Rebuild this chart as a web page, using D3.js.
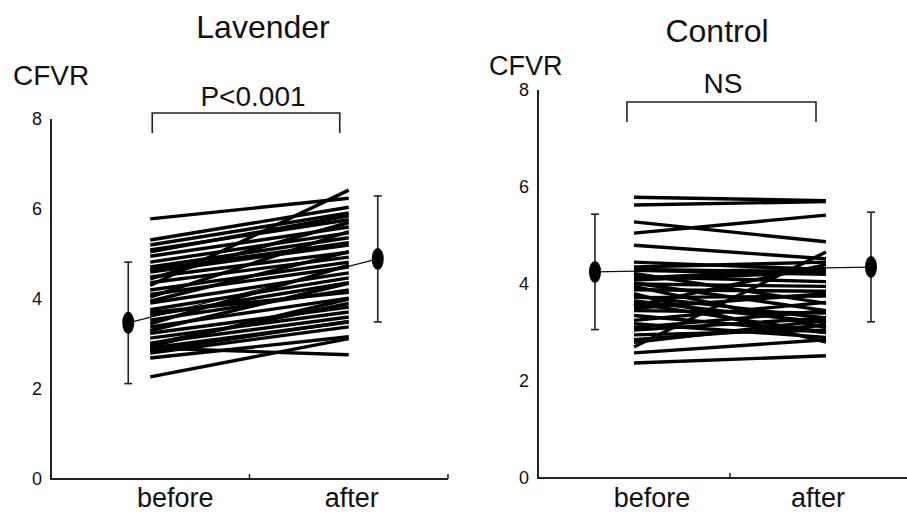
<!DOCTYPE html>
<html><head><meta charset="utf-8">
<script src="https://cdn.jsdelivr.net/npm/d3@7"></script>
<style>body{margin:0;background:#fff}svg{display:block}text{font-family:"Liberation Sans",Arial,sans-serif;fill:#111}</style>
</head><body><svg id="c" width="907" height="514"></svg>
<script>
const categories = ["before", "after"];
const yTicks = [0, 2, 4, 6, 8];
const panelTitles = ["Lavender", "Control"];
const pLabels = ["P<0.001", "NS"];
const yLabel = "CFVR";

// individual patients: before / after
const lavBefore = [5.78, 4.30, 5.31, 5.20, 5.09, 4.95, 4.82, 4.71, 4.60, 4.49, 4.36, 4.20, 4.10, 4.04, 3.91, 3.76, 3.64, 3.53, 3.38, 3.24, 3.13, 3.02, 2.91, 2.80, 2.69, 2.91, 2.27, 3.45, 2.95, 5.05, 4.65, 3.95, 3.30, 3.70, 3.00, 2.85, 4.45];
const lavAfter  = [6.24, 6.42, 6.04, 5.91, 5.76, 5.60, 5.47, 5.36, 5.20, 5.04, 4.93, 4.82, 4.71, 5.50, 4.58, 4.47, 4.36, 4.20, 4.02, 3.82, 3.71, 3.60, 3.49, 3.38, 3.16, 2.76, 3.12, 4.75, 4.00, 5.85, 5.25, 5.05, 4.35, 4.15, 3.90, 3.50, 5.70];
const ctlBefore = [5.79, 5.63, 5.28, 5.05, 4.80, 4.45, 4.35, 4.28, 4.22, 4.15, 4.08, 4.00, 3.95, 3.88, 3.80, 3.72, 3.65, 3.55, 3.45, 3.35, 3.25, 3.18, 3.05, 2.95, 2.85, 2.70, 2.58, 2.37, 4.30, 4.12, 3.75, 3.50, 3.10, 4.02, 3.60, 2.80];
const ctlAfter  = [5.72, 5.70, 4.87, 5.42, 4.52, 4.30, 4.45, 4.20, 3.60, 4.05, 4.25, 3.95, 3.10, 3.85, 2.80, 3.75, 3.20, 4.40, 3.40, 3.00, 3.62, 2.90, 3.30, 3.05, 3.15, 4.66, 2.85, 2.52, 4.25, 4.32, 3.30, 3.80, 3.45, 3.45, 3.00, 3.25];
// group mean and SD
const lavMean = [3.47, 4.89], lavSD = [1.35, 1.40];
const ctlMean = [4.25, 4.35], ctlSD = [1.19, 1.13];

const svg = d3.select("#c");

function panel(o) {
  const x = d3.scaleBand().domain(categories).range([o.x0, o.x1]);
  const y = d3.scaleLinear().domain([0, 8]).range([o.yb, o.yt]);
  const g = svg.append("g");
  const bw = x.bandwidth();
  const cx = c => x(c) + bw / 2;

  // axes
  g.append("line").attr("x1", o.x0).attr("x2", o.x0).attr("y1", y(0)).attr("y2", y(8))
    .attr("stroke", "#222").attr("stroke-width", 2);
  g.append("line").attr("x1", o.x0 - 1).attr("x2", Math.min(o.x1, 907)).attr("y1", y(0)).attr("y2", y(0))
    .attr("stroke", "#222").attr("stroke-width", 2);
  categories.forEach(c => {
    const tx = x(c) + bw;
    g.append("line").attr("x1", tx).attr("x2", tx).attr("y1", y(0)).attr("y2", y(0) - 5)
      .attr("stroke", "#222").attr("stroke-width", 1.5);
  });
  yTicks.forEach(t => {
    g.append("text").attr("x", o.x0 - 9).attr("y", y(t)).attr("dy", "0.36em")
      .attr("text-anchor", "end").attr("font-size", 18).text(t);
  });
  categories.forEach((c, i) => {
    g.append("text").attr("x", cx(c) + o.labOff[i]).attr("y", 507).attr("text-anchor", "middle")
      .attr("font-size", 27).text(c);
  });

  // mean connector
  const mx = [cx(categories[0]) + o.meanOff[0], cx(categories[1]) + o.meanOff[1]];
  g.append("line").attr("x1", mx[0]).attr("x2", mx[1]).attr("y1", y(o.mean[0])).attr("y2", y(o.mean[1]))
    .attr("stroke", "#111").attr("stroke-width", 1.3);

  // patient lines
  o.before.forEach((b, i) => {
    g.append("line").attr("x1", cx(categories[0])).attr("x2", cx(categories[1]))
      .attr("y1", y(b)).attr("y2", y(o.after[i]))
      .attr("stroke", "#000").attr("stroke-width", 3.4);
  });

  // error bars and means
  [0, 1].forEach(i => {
    const m = o.mean[i], s = o.sd[i];
    g.append("line").attr("x1", mx[i]).attr("x2", mx[i]).attr("y1", y(m - s)).attr("y2", y(m + s))
      .attr("stroke", "#222").attr("stroke-width", 1.6);
    [m - s, m + s].forEach(v => g.append("line").attr("x1", mx[i] - 4).attr("x2", mx[i] + 4)
      .attr("y1", y(v)).attr("y2", y(v)).attr("stroke", "#222").attr("stroke-width", 1.6));
    g.append("ellipse").attr("cx", mx[i]).attr("cy", y(m)).attr("rx", 6).attr("ry", 11).attr("fill", "#000");
  });

  // bracket
  const bx0 = cx(categories[0]) + o.brOff[0], bx1 = cx(categories[1]) + o.brOff[1];
  g.append("path").attr("d", `M${bx0},${o.brY + 20}V${o.brY}H${bx1}V${o.brY + 20}`)
    .attr("fill", "none").attr("stroke", "#222").attr("stroke-width", 1.6);
  g.append("text").attr("x", o.pX).attr("y", o.pY).attr("text-anchor", "middle").attr("font-size", 28).text(o.p);
  g.append("text").attr("x", o.tX).attr("y", o.tY).attr("text-anchor", "middle").attr("font-size", 32).text(o.title);
  g.append("text").attr("x", o.lX).attr("y", o.lY).attr("font-size", o.lS).text(yLabel);
}

panel({x0: 51, x1: 448, yb: 479, yt: 119, before: lavBefore, after: lavAfter, mean: lavMean, sd: lavSD,
  meanOff: [-22, 29], labOff: [25, 3], brOff: [2, -9], brY: 113, p: pLabels[0], pX: 253, pY: 106,
  title: panelTitles[0], tX: 263, tY: 38, lX: 13, lY: 85, lS: 28});
panel({x0: 538, x1: 922, yb: 478, yt: 90, before: ctlBefore, after: ctlAfter, mean: ctlMean, sd: ctlSD,
  meanOff: [-39, 45], labOff: [18, -8], brOff: [-7, -10], brY: 102, p: pLabels[1], pX: 723, pY: 93,
  title: panelTitles[1], tX: 717, tY: 42, lX: 489, lY: 75, lS: 27});
</script></body></html>
